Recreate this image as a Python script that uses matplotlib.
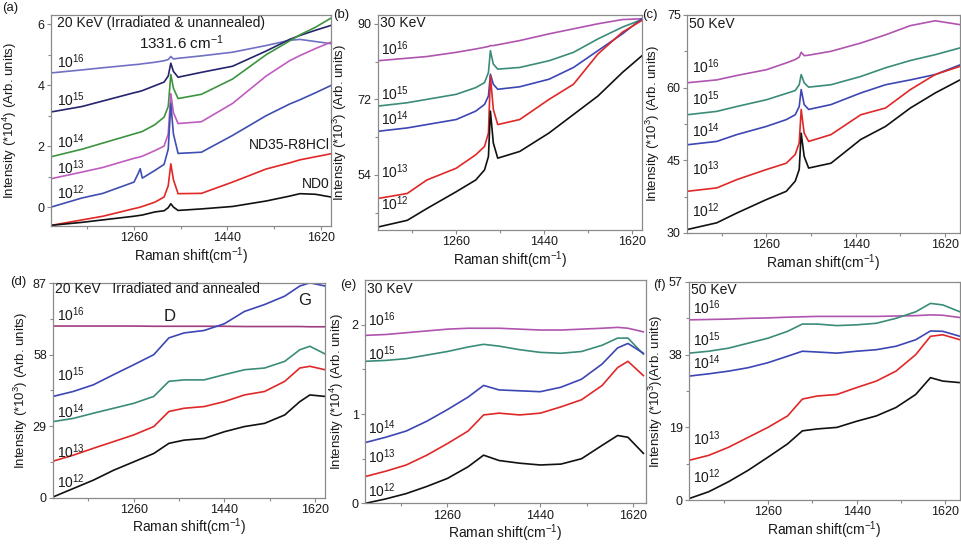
import matplotlib
matplotlib.use('Agg')
import matplotlib.pyplot as plt
from matplotlib.ticker import FixedLocator, FixedFormatter

plt.rcParams['font.family'] = ['Liberation Sans', 'DejaVu Sans']
plt.rcParams['mathtext.fontset'] = 'custom'
plt.rcParams['mathtext.rm'] = 'Liberation Sans'
plt.rcParams['mathtext.it'] = 'Liberation Sans:italic'
plt.rcParams['mathtext.bf'] = 'Liberation Sans:bold'

# ---------------- data ----------------
FLUENCES = ['$10^{16}$', '$10^{15}$', '$10^{14}$', '$10^{13}$', '$10^{12}$']
XTICKS = [1260, 1440, 1620]
XMINOR = [1170, 1350, 1530]

# (a) 20 keV irradiated & unannealed (*10^4)
XA = [1100, 1160, 1200, 1260, 1268, 1272, 1276, 1300, 1318, 1326, 1331, 1336, 1345, 1390, 1450, 1515, 1560, 1580, 1610, 1640]
A_1e16 = [4.40, 4.50, 4.57, 4.67, 4.68, 4.69, 4.70, 4.75, 4.80, 4.84, 4.94, 4.86, 4.88, 4.96, 5.08, 5.30, 5.47, 5.50, 5.43, 5.36]
A_1e15 = [3.12, 3.30, 3.48, 3.75, 3.78, 3.80, 3.82, 3.98, 4.10, 4.30, 4.72, 4.45, 4.26, 4.42, 4.62, 5.12, 5.50, 5.63, 5.80, 5.96]
A_1e14 = [1.65, 1.90, 2.10, 2.40, 2.44, 2.46, 2.48, 2.70, 2.95, 3.30, 4.35, 3.90, 3.56, 3.70, 4.20, 5.00, 5.45, 5.65, 5.90, 6.20]
A_1e13 = [0.93, 1.15, 1.30, 1.60, 1.63, 1.65, 1.67, 1.85, 2.00, 2.40, 3.72, 3.10, 2.74, 2.80, 3.40, 4.30, 4.80, 4.97, 5.20, 5.41]
A_1e12 = [0.00, 0.30, 0.45, 0.82, 1.10, 1.26, 0.95, 1.20, 1.40, 1.90, 3.40, 2.40, 1.76, 1.80, 2.35, 3.00, 3.38, 3.52, 3.75, 3.99]
A_ND35 = [-0.60, -0.42, -0.30, -0.05, -0.02, 0.00, 0.02, 0.16, 0.33, 0.70, 1.42, 0.90, 0.44, 0.45, 0.82, 1.25, 1.45, 1.55, 1.65, 1.75]
A_ND0 = [-0.60, -0.50, -0.42, -0.30, -0.28, -0.27, -0.26, -0.16, -0.12, -0.02, 0.11, 0.00, -0.11, -0.06, 0.02, 0.20, 0.36, 0.44, 0.42, 0.33]

# (b) 30 keV unannealed (*10^3) and (c) 50 keV unannealed (*10^3)
XB = [1100, 1160, 1200, 1260, 1300, 1318, 1326, 1330, 1336, 1345, 1390, 1450, 1500, 1550, 1600, 1640]
B_1e16 = [81.2, 81.8, 82.2, 83.2, 84.0, 84.4, 84.6, 84.8, 84.8, 85.0, 86.0, 87.6, 88.8, 90.0, 91.0, 91.2]
B_1e15 = [70.4, 71.2, 72.0, 73.2, 74.8, 76.0, 78.4, 83.6, 80.4, 79.2, 79.6, 81.2, 83.2, 86.4, 89.2, 91.0]
B_1e14 = [64.4, 65.2, 66.0, 67.2, 69.2, 70.8, 72.8, 78.0, 75.6, 74.4, 75.0, 76.8, 79.6, 83.6, 87.6, 91.2]
B_1e13 = [48.4, 49.6, 52.8, 55.6, 58.8, 60.8, 64.0, 77.6, 69.6, 66.0, 67.2, 72.0, 75.6, 82.8, 88.0, 90.8]
B_1e12 = [41.6, 43.2, 46.0, 50.0, 52.8, 55.2, 58.4, 69.2, 61.6, 58.0, 59.6, 64.0, 68.4, 72.8, 78.4, 82.4]

XC = [1100, 1160, 1200, 1260, 1300, 1318, 1326, 1330, 1336, 1345, 1390, 1450, 1500, 1550, 1600, 1650]
C_1e16 = [61.0, 61.6, 62.5, 63.7, 65.1, 65.8, 66.3, 67.3, 66.6, 66.7, 67.5, 69.2, 70.9, 72.8, 73.8, 73.0]
C_1e15 = [54.4, 55.1, 56.1, 57.5, 58.8, 59.4, 60.6, 62.7, 61.0, 60.1, 60.6, 62.3, 64.1, 65.6, 66.8, 68.2]
C_1e14 = [48.2, 48.9, 50.3, 52.0, 53.4, 54.4, 56.1, 59.6, 56.5, 55.5, 56.5, 58.9, 60.6, 61.6, 62.7, 64.7]
C_1e13 = [38.6, 39.3, 41.0, 43.1, 44.4, 46.2, 48.6, 55.5, 50.6, 48.9, 50.3, 54.4, 55.8, 59.6, 62.7, 64.4]
C_1e12 = [30.7, 32.1, 34.1, 36.9, 38.6, 40.7, 43.1, 50.6, 45.8, 43.4, 44.4, 49.3, 52.0, 55.8, 58.9, 61.6]

# (d) 20 keV annealed (*10^3), (e) 30 keV annealed (*10^4), (f) 50 keV annealed (*10^3)
XD = [1100, 1140, 1180, 1220, 1260, 1300, 1330, 1360, 1400, 1440, 1480, 1520, 1560, 1590, 1610, 1640]
D_1e16 = [69.6, 69.6, 69.6, 69.6, 69.6, 69.5, 69.5, 69.5, 69.5, 69.5, 69.4, 69.4, 69.4, 69.4, 69.3, 69.3]
D_1e15 = [41.1, 43.1, 45.8, 49.9, 53.9, 58.0, 64.8, 66.8, 67.8, 70.5, 75.5, 78.3, 81.7, 85.8, 87.1, 85.8]
D_1e14 = [30.9, 32.2, 34.3, 36.3, 38.3, 41.1, 47.2, 47.8, 47.8, 49.9, 51.9, 52.6, 55.3, 60.0, 61.4, 58.3]
D_1e13 = [14.9, 17.3, 20.1, 22.8, 25.5, 28.9, 35.0, 36.3, 37.0, 39.0, 41.7, 43.1, 47.2, 52.6, 53.3, 51.9]
D_1e12 = [0.4, 3.8, 7.2, 11.2, 14.6, 18.0, 22.1, 23.4, 24.1, 26.8, 28.9, 30.2, 33.6, 39.0, 41.7, 41.1]

XE = [1100, 1140, 1180, 1220, 1260, 1300, 1330, 1360, 1400, 1440, 1480, 1520, 1560, 1590, 1610, 1640]
E_1e16 = [1.88, 1.89, 1.91, 1.93, 1.95, 1.96, 1.96, 1.96, 1.95, 1.94, 1.94, 1.95, 1.96, 1.97, 1.96, 1.92]
E_1e15 = [1.59, 1.60, 1.62, 1.66, 1.70, 1.75, 1.78, 1.76, 1.72, 1.69, 1.68, 1.70, 1.77, 1.85, 1.85, 1.67]
E_1e14 = [0.68, 0.74, 0.81, 0.92, 1.05, 1.19, 1.32, 1.27, 1.26, 1.25, 1.30, 1.39, 1.56, 1.74, 1.79, 1.68]
E_1e13 = [0.30, 0.36, 0.43, 0.54, 0.67, 0.81, 0.99, 1.01, 0.99, 1.01, 1.08, 1.16, 1.32, 1.52, 1.59, 1.43]
E_1e12 = [0.00, 0.05, 0.11, 0.19, 0.28, 0.41, 0.54, 0.48, 0.45, 0.43, 0.44, 0.50, 0.65, 0.76, 0.74, 0.56]

XF = [1100, 1140, 1180, 1220, 1260, 1300, 1330, 1360, 1400, 1440, 1480, 1520, 1560, 1590, 1615, 1650]
F_1e16 = [47.1, 47.2, 47.3, 47.5, 47.6, 47.8, 47.9, 48.0, 48.0, 48.0, 48.0, 48.1, 48.2, 48.4, 48.3, 47.7]
F_1e15 = [38.4, 38.9, 39.7, 41.0, 42.3, 44.1, 46.0, 46.0, 45.6, 45.8, 46.2, 47.5, 49.2, 51.4, 51.0, 49.2]
F_1e14 = [32.4, 33.0, 33.7, 34.6, 35.9, 37.6, 38.9, 38.7, 38.4, 38.9, 39.3, 40.2, 41.9, 44.2, 44.1, 42.8]
F_1e13 = [10.4, 11.7, 13.8, 16.4, 19.0, 22.0, 26.4, 27.2, 27.6, 29.4, 31.1, 33.7, 38.0, 42.8, 43.2, 41.9]
F_1e12 = [0.4, 2.2, 4.8, 7.8, 11.2, 14.7, 18.1, 18.6, 19.0, 20.6, 22.0, 24.2, 27.6, 32.0, 31.1, 30.7]

# ---------------- styling ----------------
SPINE = '#8a8a8a'
TXT = '#1a1a1a'
C_A = ['#7070c4', '#24246c', '#3d9440', '#c05cbf', '#3e4fb0', '#e32626', '#111111']
C_STD = ['#b054b0', '#3a8c78', '#3c46b4', '#e02828', '#111111']
C_D = ['#a03d80', '#3c46b4', '#3a8c78', '#e02828', '#111111']

fig = plt.figure(figsize=(9.61, 5.46), dpi=100)


def make_ax(rect, xlim, ylim, yticks, yminor, ylabel, lab_x):
    ax = fig.add_axes(rect)
    ax.set_xlim(*xlim)
    ax.set_ylim(*ylim)
    ax.xaxis.set_major_locator(FixedLocator(XTICKS))
    ax.xaxis.set_minor_locator(FixedLocator(XMINOR))
    ax.xaxis.set_major_formatter(FixedFormatter([str(t) for t in XTICKS]))
    ax.yaxis.set_major_locator(FixedLocator(yticks))
    ax.yaxis.set_minor_locator(FixedLocator(yminor))
    ax.yaxis.set_major_formatter(FixedFormatter([('%g' % t) for t in yticks]))
    for s in ax.spines.values():
        s.set_color(SPINE)
        s.set_linewidth(0.9)
    ax.tick_params(which='both', direction='out', color=SPINE, labelsize=9,
                   labelcolor=TXT, pad=1.5, width=0.8)
    ax.tick_params(which='major', length=3)
    ax.tick_params(which='minor', length=2)
    ax.set_xlabel('Raman shift(cm$^{-1}$)', fontsize=10, color=TXT, labelpad=0.5)
    ax.set_ylabel(ylabel, fontsize=9.5, color=TXT)
    ax.yaxis.set_label_coords(lab_x, 0.5)
    return ax


def labels(ax, x, ys):
    for lab, y in zip(FLUENCES, ys):
        ax.text(x, y, lab, fontsize=10, color=TXT, ha='left', va='baseline')


LW = 1.2

# (a)
axa = make_ax([0.0531, 0.5861, 0.2914, 0.3864], (1100, 1640), (-0.62, 6.3), [0, 2, 4, 6], [1, 3, 5],
              'Intensity (*10$^4$) (Arb. units)', -0.115)
for ys, c in zip([A_1e16, A_1e15, A_1e14, A_1e13, A_1e12, A_ND35, A_ND0], C_A):
    axa.plot(XA, ys, color=c, lw=LW)
labels(axa, 1112, [4.55, 3.33, 1.93, 1.10, 0.28])
axa.text(1112, 6.27, '20 KeV (Irradiated & unannealed)', fontsize=10, color=TXT, va='top')
axa.text(1352, 5.40, '1331.6 cm$^{-1}$', fontsize=11, color=TXT, ha='center', va='center')
axa.text(1637, 2.04, 'ND35-R8HCl', fontsize=10, color=TXT, ha='right', va='center')
axa.text(1637, 0.76, 'ND0', fontsize=10, color=TXT, ha='right', va='center')

# (b)
axb = make_ax([0.3933, 0.5788, 0.2747, 0.3938], (1100, 1640), (40.9, 92.1), [54, 72, 90], [45, 63, 81],
              'Intensity (*10$^3$) (Arb. units)', -0.108)
for ys, c in zip([B_1e16, B_1e15, B_1e14, B_1e13, B_1e12], C_STD):
    axb.plot(XB, ys, color=c, lw=LW)
labels(axb, 1107, [82.6, 71.9, 65.9, 53.3, 45.7])
axb.text(1104, 91.9, '30 KeV', fontsize=10, color=TXT, va='top')

# (c)
axc = make_ax([0.7149, 0.5733, 0.2841, 0.3993], (1100, 1650), (30, 75), [30, 45, 60, 75], [37.5, 52.5, 67.5],
              'Intensity (*10$^3$) (Arb. units)', -0.09)
for ys, c in zip([C_1e16, C_1e15, C_1e14, C_1e13, C_1e12], C_STD):
    axc.plot(XC, ys, color=c, lw=LW)
labels(axc, 1110, [63.0, 56.4, 49.8, 42.0, 33.2])
axc.text(1104, 74.6, '50 KeV', fontsize=10, color=TXT, va='top')

# (d)
axd = make_ax([0.0552, 0.0880, 0.2830, 0.3936], (1100, 1640), (0, 87), [0, 29, 58, 87], [14.5, 43.5, 72.5],
              'Intensity (*10$^3$) (Arb. units)', -0.083)
for ys, c in zip([D_1e16, D_1e15, D_1e14, D_1e13, D_1e12], C_D):
    axd.plot(XD, ys, color=c, lw=LW)
labels(axd, 1108, [71.5, 47.4, 32.3, 16.0, 4.0])
axd.text(1104, 87.4, '20 KeV   Irradiated and annealed', fontsize=10, color=TXT, va='top')
axd.text(1332, 73.4, 'D', fontsize=12, color=TXT, ha='center', va='center')
axd.text(1600, 79.8, 'G', fontsize=12, color=TXT, ha='center', va='center')

# (e)
axe = make_ax([0.3798, 0.0780, 0.2924, 0.4092], (1100, 1645), (0, 2.5), [0, 1, 2], [0.5, 1.5],
              'Intensity (*10$^4$) (Arb. units)', -0.066)
for ys, c in zip([E_1e16, E_1e15, E_1e14, E_1e13, E_1e12], C_STD):
    axe.plot(XE, ys, color=c, lw=LW)
labels(axe, 1106, [1.98, 1.60, 0.78, 0.45, 0.07])
axe.text(1104, 2.48, '30 KeV', fontsize=10, color=TXT, va='top')

# (f)
axf = make_ax([0.7170, 0.0840, 0.2820, 0.3996], (1100, 1650), (0, 57), [0, 19, 38, 57], [9.5, 28.5, 47.5],
              'Intensity (*10$^3$)(Arb. units)', -0.09)
for ys, c in zip([F_1e16, F_1e15, F_1e14, F_1e13, F_1e12], C_STD):
    axf.plot(XF, ys, color=c, lw=LW)
labels(axf, 1108, [48.5, 40.2, 34.3, 14.4, 4.6])
axf.text(1104, 56.8, '50 KeV', fontsize=10, color=TXT, va='top')

# panel letters
for lab, (px, py) in zip(['(a)', '(b)', '(c)', '(d)', '(e)', '(f)'],
                         [(2, 2), (333, 9), (642, 9), (10, 276), (340, 279), (653, 279)]):
    fig.text(px / 961, 1 - py / 546, lab, fontsize=9.5, color=TXT, ha='left', va='top')

fig.savefig('out.png', dpi=100)
